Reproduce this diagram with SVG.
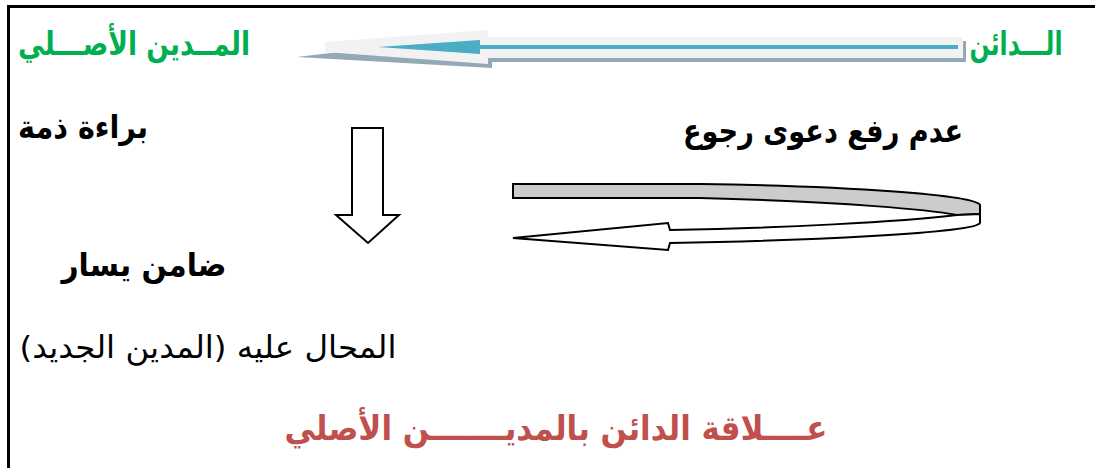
<svg xmlns="http://www.w3.org/2000/svg" width="1095" height="468" viewBox="0 0 1095 468">
<style>
text{font-family:"DejaVu Sans","Liberation Sans",sans-serif;direction:rtl;text-anchor:middle}
.g{fill:#00B050;font-weight:bold;font-size:33px}
.b{fill:#000;font-weight:bold;font-size:32px}
.n{fill:#000;font-size:31px}
.r{fill:#C0504D;font-weight:bold;font-size:34px}
.ol{stroke:#000;stroke-width:2;stroke-linejoin:miter}
</style>
<rect width="1095" height="468" fill="#fff"/>
<g id="frame">
<path d="M8.5 468 V6.5 H1095" fill="none" stroke="#000" stroke-width="3"/>
</g>
<g id="connectors">
<g id="top-arrow">
<polygon points="297,57 480,35 480,41 966,41 966,62 492,62 492,68" fill="#93A9B5"/>
<polygon points="325,42 488,30 488,37 963,37 963,58 488,58 488,64 325,52" fill="#F2F2F2"/>
<rect x="478" y="45" width="480" height="4" fill="#4BACC6"/>
<polygon points="378,47 480,40 480,54" fill="#4BACC6"/>
</g>
<g id="down-arrow">
<polygon class="ol" points="352,128 383,128 383,215 399,215 368,243 336,215 352,215" fill="#fff"/>
</g>
<g id="curved-arrow">
<path class="ol" d="M513,184 L700,184 C850,186 975,195 980,205 L980,214 L957,215 C930,210 850,202 700,198 L513,198 Z" fill="#CCCCCC"/>
<path class="ol" d="M957,215 C900,222 780,228 670,230 L668,223 L513,238 L668,250 L670,243 C800,241 975,233 980,223 L980,214 Z" fill="#fff"/>
</g>
</g>
<g id="node-creditor"><text class="g" x="1016" y="55" textLength="93" lengthAdjust="spacingAndGlyphs">الـــدائن</text></g>
<g id="node-original-debtor"><text class="g" x="134" y="55" textLength="232" lengthAdjust="spacingAndGlyphs">المــدين الأصـــلي</text></g>
<g id="node-discharge"><text class="b" x="83" y="138" textLength="130" lengthAdjust="spacingAndGlyphs">براءة ذمة</text></g>
<g id="node-no-recourse"><text class="b" x="823" y="142" textLength="280" lengthAdjust="spacingAndGlyphs">عدم رفع دعوى رجوع</text></g>
<g id="node-solvency"><text class="b" x="144" y="276" textLength="165" lengthAdjust="spacingAndGlyphs">ضامن يسار</text></g>
<g id="node-new-debtor"><text class="n" x="208" y="358" textLength="377" lengthAdjust="spacingAndGlyphs">المحال عليه (المدين الجديد)</text></g>
<g id="title"><text class="r" x="556" y="440" textLength="543" lengthAdjust="spacingAndGlyphs">عــــلاقة الدائن بالمديـــــــن الأصلي</text></g>
</svg>
